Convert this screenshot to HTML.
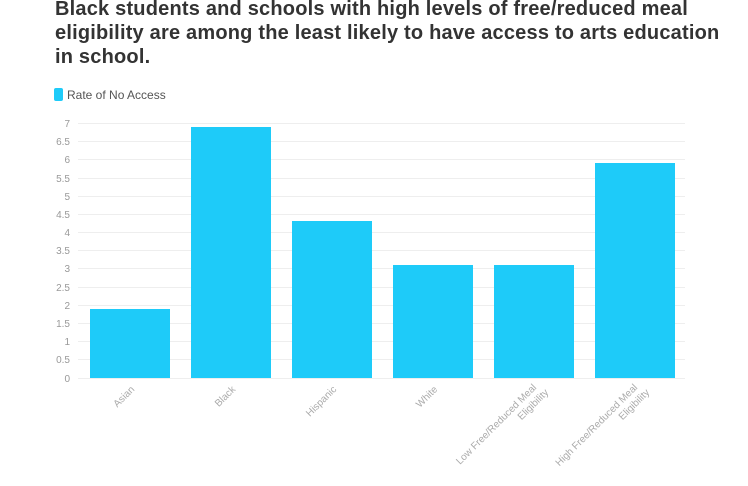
<!DOCTYPE html>
<html><head><style>
body{margin:0;background:#fff;width:748px;height:486px;overflow:hidden}
.t{position:absolute;left:55px;top:-3px;font:bold 20px/24px "Liberation Sans",sans-serif;color:#333;white-space:nowrap;letter-spacing:0.2px}
</style></head><body>
<div class="t">Black students and schools with high levels of free/reduced meal<br>eligibility are among the least likely to have access to arts education<br>in school.</div>
<svg style="position:absolute;left:0;top:0" width="748" height="486" font-family="Liberation Sans, sans-serif">
<rect x="54" y="88" width="9" height="13" rx="2" fill="#1ecbf9"/>
<text x="67" y="99" font-size="12" fill="#555">Rate of No Access</text>
<g stroke="#eee" stroke-width="1">
<line x1="78" x2="685" y1="123.5" y2="123.5"/><line x1="78" x2="685" y1="141.5" y2="141.5"/><line x1="78" x2="685" y1="159.5" y2="159.5"/><line x1="78" x2="685" y1="178.5" y2="178.5"/><line x1="78" x2="685" y1="196.5" y2="196.5"/><line x1="78" x2="685" y1="214.5" y2="214.5"/><line x1="78" x2="685" y1="232.5" y2="232.5"/><line x1="78" x2="685" y1="250.5" y2="250.5"/><line x1="78" x2="685" y1="268.5" y2="268.5"/><line x1="78" x2="685" y1="287.5" y2="287.5"/><line x1="78" x2="685" y1="305.5" y2="305.5"/><line x1="78" x2="685" y1="323.5" y2="323.5"/><line x1="78" x2="685" y1="341.5" y2="341.5"/><line x1="78" x2="685" y1="359.5" y2="359.5"/><line x1="78" x2="685" y1="378.5" y2="378.5"/>
</g>
<g font-size="10" fill="#999" text-anchor="end">
<text x="70" y="127">7</text><text x="70" y="145">6.5</text><text x="70" y="163">6</text><text x="70" y="182">5.5</text><text x="70" y="200">5</text><text x="70" y="218">4.5</text><text x="70" y="236">4</text><text x="70" y="254">3.5</text><text x="70" y="272">3</text><text x="70" y="291">2.5</text><text x="70" y="309">2</text><text x="70" y="327">1.5</text><text x="70" y="345">1</text><text x="70" y="363">0.5</text><text x="70" y="382">0</text>
</g>
<g fill="#1ecbf9">
<rect x="90" y="309" width="80" height="69"/>
<rect x="191" y="127" width="80" height="251"/>
<rect x="292" y="221" width="80" height="157"/>
<rect x="393" y="265" width="80" height="113"/>
<rect x="494" y="265" width="80" height="113"/>
<rect x="595" y="163" width="80" height="215"/>
</g>
<g font-size="10" fill="#aaa" text-anchor="end">
<text transform="translate(135,390) rotate(-45)">Asian</text>
<text transform="translate(236,390) rotate(-45)">Black</text>
<text transform="translate(337,390) rotate(-45)">Hispanic</text>
<text transform="translate(438,390) rotate(-45)">White</text>
<text transform="translate(537,388) rotate(-45)">Low Free/Reduced Meal</text>
<text transform="translate(549,393) rotate(-45)">Eligibility</text>
<text transform="translate(638,388) rotate(-45)">High Free/Reduced Meal</text>
<text transform="translate(650,393) rotate(-45)">Eligibility</text>
</g>
</svg>
</body></html>
